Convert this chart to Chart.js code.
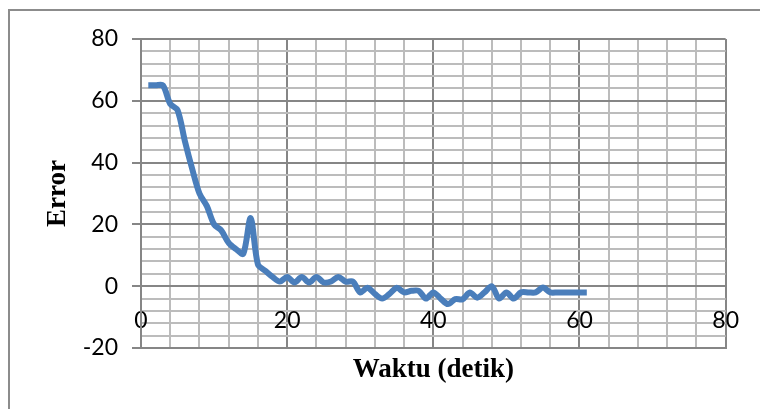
<!DOCTYPE html>
<html>
<head>
<meta charset="utf-8">
<script src="https://cdn.jsdelivr.net/npm/chart.js@4/dist/chart.umd.min.js"></script>
<style>
  body { margin: 0; background: #fff; }
  #wrap { position: relative; width: 760px; height: 409px; overflow: hidden; }
  #frame { position: absolute; left: 8px; top: 9px; width: 800px; height: 450px; border: 2px solid #8c8c8c; }
  #myChart { position: absolute; left: 0; top: 0; }
</style>
</head>
<body>
<div id="wrap">
  <div id="frame"></div>
  <canvas id="myChart" width="760" height="409"></canvas>
</div>
<script>
const waktu = [1, 2, 3, 4, 5, 6, 7, 8, 9, 10,
    11, 12, 13, 14, 15, 16, 17, 18, 19, 20,
    21, 22, 23, 24, 25, 26, 27, 28, 29, 30,
    31, 32, 33, 34, 35, 36, 37, 38, 39, 40,
    41, 42, 43, 44, 45, 46, 47, 48, 49, 50,
    51, 52, 53, 54, 55, 56, 57, 58, 59, 60, 61]
const error = [65, 65, 65, 59, 57, 47, 38, 30, 26, 20,
    18, 14, 12, 10.5, 22, 7, 5, 3, 1.5, 3,
    1.2, 3, 1.2, 3, 1.2, 1.5, 3, 1.5, 1.5, -2,
    -0.5, -2.5, -4, -2.5, -0.5, -2, -1.5, -1.5, -4, -2,
    -4, -5.8, -4.2, -4.2, -2, -3.7, -2, 0, -4, -2,
    -4, -2, -2, -2, -0.4, -2, -2, -2, -2, -2, -2]
const xLabels = [0, 20, 40, 60, 80]
const yLabels = [-20, 0, 20, 40, 60, 80]

const points = []
for (let i = 0; i < waktu.length; i++) {
    points.push({ x: waktu[i], y: error[i] })
}

const major = 'rgba(134, 134, 134, 1)'
const minor = 'rgba(188, 188, 188, 1)'
const tickFont = { family: 'Lato', size: 23 }
const titleFont = { family: 'Liberation Serif', size: 27, weight: 'bold' }

const ctx = document.getElementById('myChart').getContext('2d');

const myChart = new Chart(ctx, {
    type: 'scatter',
    data: {
        datasets: [{
            label: 'Error',
            data: points,
            showLine: true,
            borderColor: '#4a7ebb',
            borderWidth: 6,
            tension: 0.3,
            pointRadius: 0,
            xAxisID: 'x',
            yAxisID: 'y'
        }]
    },
    options: {
        responsive: false,
        animation: false,
        layout: { padding: { left: 0, top: 39, right: 32, bottom: 0 } },
        plugins: {
            legend: { display: false },
            tooltip: { enabled: false }
        },
        scales: {
            x: {
                type: 'linear',
                position: 'bottom',
                min: 0,
                max: 80,
                ticks: { display: false, stepSize: 4, autoSkip: false },
                grid: {
                    drawTicks: false,
                    lineWidth: 2,
                    color: (c) => (Math.round(c.tick.value) % 20 === 0 ? major : minor)
                },
                border: { color: major, width: 2 },
                title: {
                    display: true,
                    text: 'Waktu (detik)',
                    color: '#000',
                    font: titleFont,
                    padding: { top: 0, bottom: 23 }
                },
                afterFit: (scale) => { scale.height = 61 }
            },
            x2: {
                type: 'linear',
                position: { y: 0 },
                min: 0,
                max: 80,
                afterBuildTicks: (scale) => { scale.ticks = xLabels.map(v => ({ value: v })) },
                ticks: { color: '#000', font: tickFont, padding: 21, autoSkip: false, maxRotation: 0 },
                grid: { display: false, drawTicks: false },
                border: { display: false },
                afterFit: (scale) => { scale.height = 0 }
            },
            y: {
                type: 'linear',
                position: 'left',
                min: -20,
                max: 80,
                ticks: {
                    stepSize: 4,
                    autoSkip: false,
                    color: '#000',
                    font: tickFont,
                    padding: 14,
                    callback: (v) => (yLabels.includes(Math.round(v)) ? Math.round(v) : '')
                },
                grid: {
                    tickLength: 9,
                    lineWidth: 2,
                    color: (c) => (Math.round(c.tick.value) % 20 === 0 ? major : minor),
                    tickColor: (c) => (Math.round(c.tick.value) % 20 === 0 ? major : 'rgba(0,0,0,0)')
                },
                border: { color: major, width: 2 },
                title: {
                    display: true,
                    text: 'Error',
                    color: '#000',
                    font: titleFont,
                    padding: { top: 42, bottom: 0 }
                },
                afterFit: (scale) => { scale.width = 141 }
            }
        }
    }
});
</script>
</body>
</html>
